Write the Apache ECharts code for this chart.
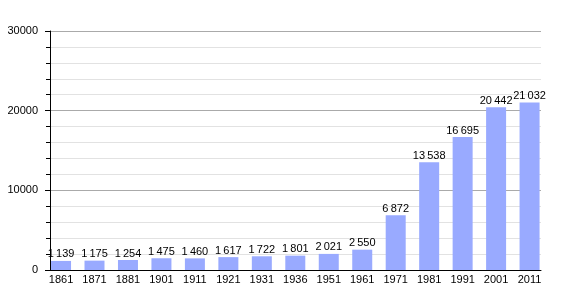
<!DOCTYPE html>
<html><head><meta charset="utf-8">
<script src="https://cdn.jsdelivr.net/npm/echarts@6/dist/echarts.min.js"></script>
<style>html,body{margin:0;padding:0;background:#fff}#c{width:570px;height:300px}</style>
</head><body><div id="c"></div>
<script>
const years = ['1861','1871','1881','1901','1911','1921','1931','1936','1951','1961','1971','1981','1991','2001','2011'];
const population = [1139,1175,1254,1475,1460,1617,1722,1801,2021,2550,6872,13538,16695,20442,21032];
const yTicks = [0,10000,20000,30000];

const font = 'Liberation Sans, Arial';
const chart = echarts.init(document.getElementById('c'));
chart.setOption({
  animation:false,
  grid:[
    {left:50,right:29,top:31,bottom:30},
    {left:44.3,right:23.7,top:31,bottom:30}
  ],
  xAxis:[
    {type:'category',gridIndex:0,data:years,
      axisLine:{lineStyle:{color:'#000',width:1}},
      axisTick:{show:false},axisLabel:{show:false}},
    {type:'category',gridIndex:1,data:years,
      axisLine:{show:false},axisTick:{show:false},
      axisLabel:{color:'#000',fontSize:11,fontFamily:font,margin:4}}
  ],
  yAxis:[
    {type:'value',gridIndex:0,min:yTicks[0],max:yTicks[yTicks.length-1],interval:10000,
      axisLine:{show:true,lineStyle:{color:'#000'}},
      axisTick:{show:true,length:5,lineStyle:{color:'#000'}},
      minorTick:{show:true,splitNumber:5,length:4,lineStyle:{color:'#000'}},
      splitLine:{lineStyle:{color:'#aaa'}},
      minorSplitLine:{show:true,lineStyle:{color:'#e2e2e2'}},
      axisLabel:{color:'#000',fontSize:11,fontFamily:font,margin:12,formatter:v=>String(v)}},
    {type:'value',gridIndex:1,min:yTicks[0],max:yTicks[yTicks.length-1],
      show:false,splitLine:{show:false}}
  ],
  series:[{type:'bar',xAxisIndex:1,yAxisIndex:1,data:population,barWidth:20,
    itemStyle:{color:'#99aaff'},
    label:{show:true,position:'top',distance:1,color:'#000',fontSize:11,fontFamily:font,
      formatter:p=>String(p.value).replace(/\B(?=(\d{3})+(?!\d))/g,'\u2009')}}]
});
</script></body></html>
